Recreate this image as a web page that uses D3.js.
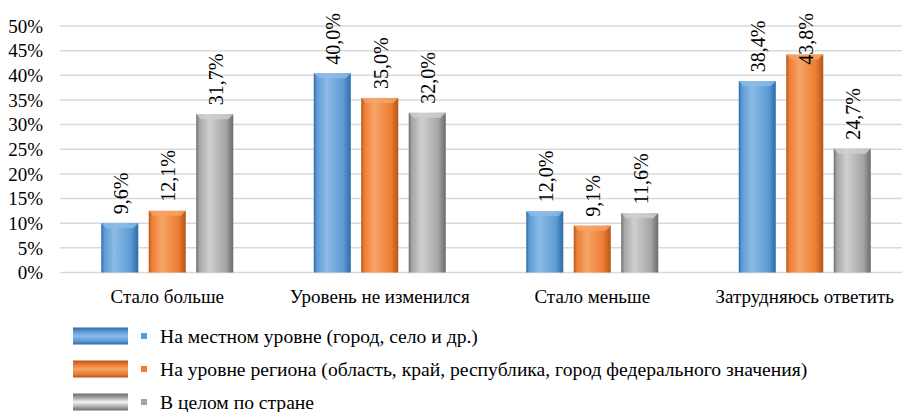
<!DOCTYPE html>
<html>
<head>
<meta charset="utf-8">
<script src="https://cdn.jsdelivr.net/npm/d3@7"></script>
<style>
  body { margin: 0; background: #fff; }
</style>
</head>
<body>
<div id="chart"></div>
<script>
// data
var categories = ['Стало больше', 'Уровень не изменился', 'Стало меньше', 'Затрудняюсь ответить'];
var seriesNames = [
  'На местном уровне (город, село и др.)',
  'На уровне региона (область, край, республика, город федерального значения)',
  'В целом по стране'
];
var localValues = [9.6, 40.0, 12.0, 38.4];
var regionValues = [12.1, 35.0, 9.1, 43.8];
var countryValues = [31.7, 32.0, 11.6, 24.7];
var yTicks = [0, 5, 10, 15, 20, 25, 30, 35, 40, 45, 50];

var seriesValues = [localValues, regionValues, countryValues];
var colors = [
  {main: '#5b9bd5', light: '#8cbbe6', dark: '#2f6aa3'},
  {main: '#ed7d31', light: '#f6a469', dark: '#b2561a'},
  {main: '#a5a5a5', light: '#cfcfcf', dark: '#6b6b6b'}
];

var width = 902, height = 412;
var svg = d3.select('#chart').append('svg')
  .attr('width', width).attr('height', height)
  .attr('font-family', "'Liberation Serif', 'DejaVu Serif', serif");

var defs = svg.append('defs');
colors.forEach(function (c, i) {
  var g = defs.append('linearGradient').attr('id', 'bar' + i)
    .attr('x1', 0).attr('x2', 1).attr('y1', 0).attr('y2', 0);
  g.append('stop').attr('offset', '0%').attr('stop-color', c.dark);
  g.append('stop').attr('offset', '8%').attr('stop-color', c.main);
  g.append('stop').attr('offset', '35%').attr('stop-color', c.light);
  g.append('stop').attr('offset', '80%').attr('stop-color', c.main);
  g.append('stop').attr('offset', '100%').attr('stop-color', c.dark);
  var k = defs.append('linearGradient').attr('id', 'key' + i)
    .attr('x1', 0).attr('x2', 0).attr('y1', 0).attr('y2', 1);
  k.append('stop').attr('offset', '0%').attr('stop-color', c.dark);
  k.append('stop').attr('offset', '25%').attr('stop-color', c.main);
  k.append('stop').attr('offset', '50%').attr('stop-color', i == 2 ? '#f4f4f4' : c.light);
  k.append('stop').attr('offset', '80%').attr('stop-color', c.main);
  k.append('stop').attr('offset', '100%').attr('stop-color', c.dark);
});

var y = d3.scaleLinear().domain([0, 50]).range([272.5, 26]);
var x0 = d3.scaleBand().domain(categories).range([61, 911]).padding(0);
var groupW = 132;
var x1 = d3.scaleBand().domain([0, 1, 2])
  .range([(x0.bandwidth() - groupW) / 2, (x0.bandwidth() + groupW) / 2])
  .paddingInner(0.22).paddingOuter(0);

// grid
svg.append('g').selectAll('line').data(yTicks).enter().append('line')
  .attr('x1', 60).attr('x2', 902)
  .attr('y1', function (d) { return y(d); })
  .attr('y2', function (d) { return y(d); })
  .attr('stroke', '#d9d9d9').attr('stroke-width', 1.5);

// y labels
svg.append('g').selectAll('text').data(yTicks).enter().append('text')
  .attr('x', 43).attr('y', function (d) { return y(d); })
  .attr('dy', '0.35em')
  .attr('text-anchor', 'end')
  .style('font-size', '19px')
  .text(function (d) { return d + '%'; });

// bars
var groups = svg.append('g').selectAll('g').data(categories).enter().append('g')
  .attr('transform', function (d) { return 'translate(' + x0(d) + ',0)'; });

var labelTop = 13; // labels are kept inside the plot area, like excel does

groups.each(function (cat, ci) {
  var g = d3.select(this);
  seriesValues.forEach(function (vals, si) {
    var v = vals[ci];
    var bx = x1(si), bw = x1.bandwidth();
    g.append('rect')
      .attr('x', bx).attr('y', y(v) - 2)
      .attr('width', bw).attr('height', y(0) - y(v) + 2)
      .attr('fill', 'url(#bar' + si + ')');
    // top bevel
    g.append('path')
      .attr('d', 'M' + bx + ',' + (y(v) - 2) + 'h' + bw + 'l-5,5h' + (-(bw - 10)) + 'z')
      .attr('fill', colors[si].light).attr('opacity', 0.8);
    var t = g.append('text')
      .attr('dominant-baseline', 'central')
      .style('font-size', '20px')
      .text(v.toFixed(1).replace('.', ',') + '%');
    var len = t.node().getComputedTextLength();
    var start = Math.max(y(v) - 11, labelTop + len);
    t.attr('transform', 'translate(' + (bx + bw / 2 + 1) + ',' + start + ') rotate(-90)');
  });
});

// category labels
svg.append('g').selectAll('text').data(categories).enter().append('text')
  .attr('x', function (d) { return x0(d) + x0.bandwidth() / 2; })
  .attr('y', 303)
  .attr('text-anchor', 'middle')
  .style('font-size', '19px')
  .text(function (d) { return d; });

// legend
var legY = [336, 369, 402];
var leg = svg.append('g').selectAll('g').data(seriesNames).enter().append('g')
  .attr('transform', function (d, i) { return 'translate(0,' + legY[i] + ')'; });
leg.append('rect')
  .attr('x', 73).attr('y', -8.5).attr('width', 55).attr('height', 17)
  .attr('fill', function (d, i) { return 'url(#key' + i + ')'; });
leg.append('rect')
  .attr('x', 141).attr('y', -3).attr('width', 6).attr('height', 6)
  .attr('fill', function (d, i) { return colors[i].main; });
leg.append('text')
  .attr('x', 160).attr('y', 0).attr('dy', '0.35em')
  .style('font-size', '19.6px')
  .text(function (d) { return d; });
</script>
</body>
</html>
